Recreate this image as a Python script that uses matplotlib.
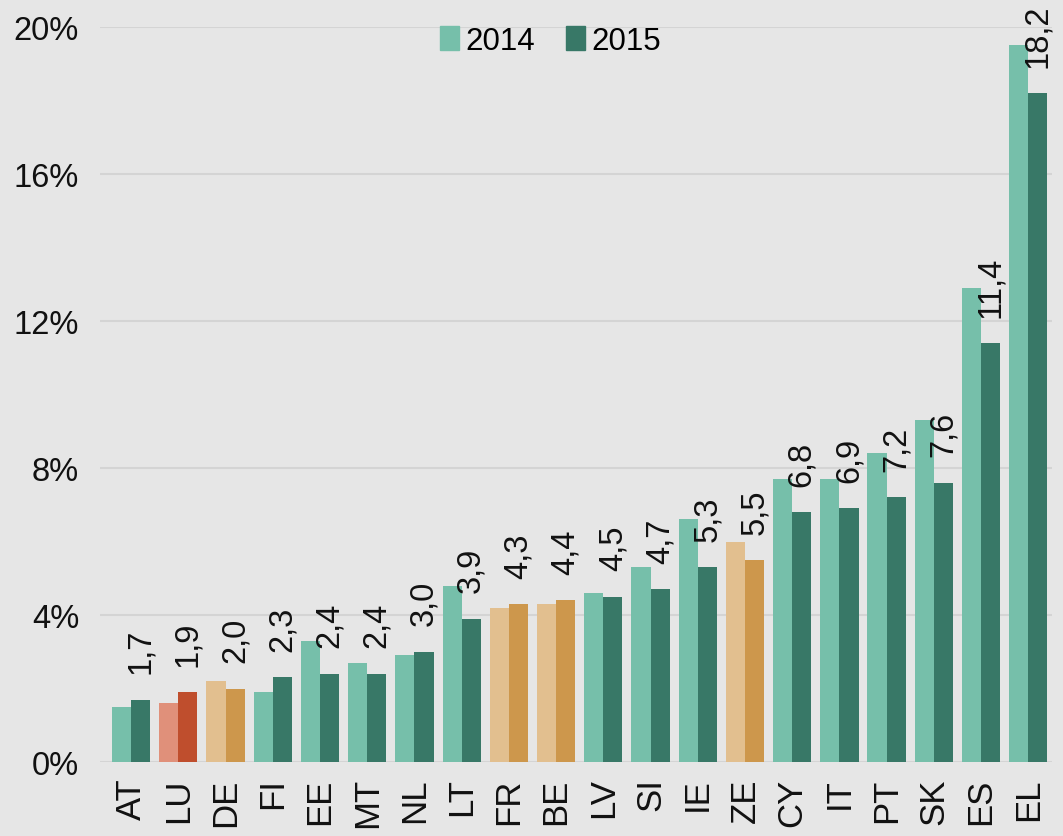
import matplotlib
matplotlib.use("Agg")
import matplotlib.pyplot as plt
import numpy as np
from matplotlib.patches import Patch

plt.rcParams['font.family'] = ['Liberation Sans', 'DejaVu Sans']

countries = ["AT", "LU", "DE", "FI", "EE", "MT", "NL", "LT", "FR", "BE",
             "LV", "SI", "IE", "ZE", "CY", "IT", "PT", "SK", "ES", "EL"]
v2014 = [1.5, 1.6, 2.2, 1.9, 3.3, 2.7, 2.9, 4.8, 4.2, 4.3,
         4.6, 5.3, 6.6, 6.0, 7.7, 7.7, 8.4, 9.3, 12.9, 19.5]
v2015 = [1.7, 1.9, 2.0, 2.3, 2.4, 2.4, 3.0, 3.9, 4.3, 4.4,
         4.5, 4.7, 5.3, 5.5, 6.8, 6.9, 7.2, 7.6, 11.4, 18.2]
yticks = [0, 4, 8, 12, 16, 20]
ytick_labels = ["0%", "4%", "8%", "12%", "16%", "20%"]

teal_light, teal_dark = "#76BFAA", "#387867"
red_light, red_dark = "#E0907A", "#BF4E2D"
tan_light, tan_dark = "#E2BF8F", "#CD974C"
special_red = {"LU"}
special_tan = {"DE", "FR", "BE", "ZE"}

c14, c15 = [], []
for c in countries:
    if c in special_red:
        c14.append(red_light); c15.append(red_dark)
    elif c in special_tan:
        c14.append(tan_light); c15.append(tan_dark)
    else:
        c14.append(teal_light); c15.append(teal_dark)

bg = "#E6E6E6"
fig = plt.figure(figsize=(10.63, 8.37), dpi=100, facecolor=bg)
ax = fig.add_axes([0.094, 0.0884, 0.896, 0.878], facecolor=bg)

x = np.arange(len(countries))
w = 0.405
ax.bar(x - w/2, v2014, width=w, color=c14, zorder=3)
ax.bar(x + w/2, v2015, width=w, color=c15, zorder=3)

for xi, v in zip(x, v2015):
    ax.annotate(f"{v:.1f}".replace(".", ","), xy=(xi + w/2, v),
                xytext=(0, 19), textcoords="offset points",
                rotation=90, ha="center", va="bottom", fontsize=23.5,
                color="#111111", annotation_clip=False)

ax.set_ylim(0, 20)
ax.set_xlim(-0.66, 19.51)
ax.set_yticks(yticks)
ax.set_yticklabels(ytick_labels)
ax.set_xticks(x)
ax.set_xticklabels(countries, rotation=90)
ax.tick_params(axis="y", length=0, pad=15, labelsize=23.5, labelcolor="#111111")
ax.tick_params(axis="x", length=0, pad=11, labelsize=25, labelcolor="#111111")
ax.grid(axis="y", color="#D4D4D4", linewidth=1.5, zorder=0)
for s in ax.spines.values():
    s.set_visible(False)

handles = [Patch(color=teal_light, label="2014"), Patch(color=teal_dark, label="2015")]
ax.legend(handles=handles, loc="upper center", bbox_to_anchor=(0.473, 1.04),
          ncol=2, frameon=False, fontsize=22.5, handlelength=0.6, handleheight=0.8,
          handletextpad=0.2, columnspacing=1.0)

fig.savefig("out.png", dpi=100, facecolor=bg)
